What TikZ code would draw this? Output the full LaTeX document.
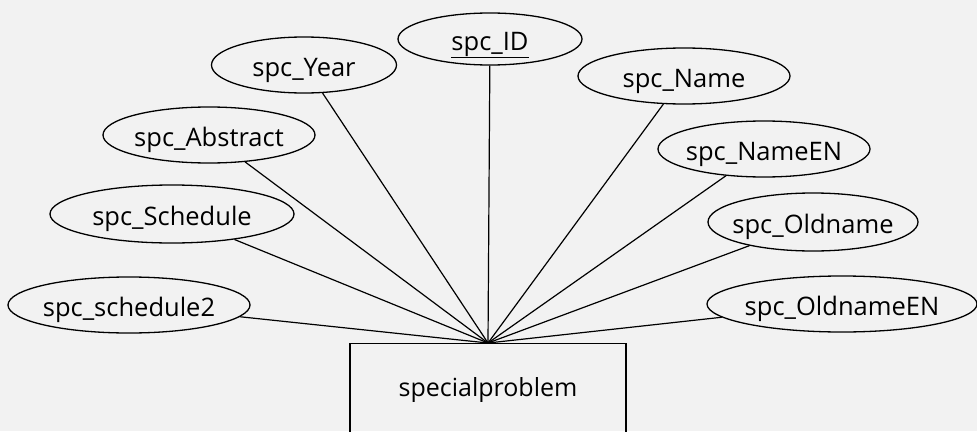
\documentclass[tikz,border=0pt]{standalone}
\usepackage{fontspec}
\setmainfont{Open Sans}
\usetikzlibrary{shapes.geometric}
\tikzset{
  attr/.style={draw, line width=1.3pt, ellipse, inner sep=0pt, font=\fontsize{25.5}{29}\selectfont},
  ent/.style={draw, line width=1.3pt, rectangle, inner sep=0pt},
  conn/.style={line width=1.2pt}
}
\newcommand{\attrtext}[1]{\makebox[0pt]{\raisebox{-11pt}[0pt][0pt]{#1}}}
\begin{document}
\begin{tikzpicture}[x=1pt,y=-1pt]
\fill[black!5] (0,0) rectangle (977,431);
\useasboundingbox (0,0) rectangle (977,431);
\clip (0,0) rectangle (977,431);
\node[ent, minimum width=276pt, minimum height=130pt, anchor=north] (sp) at (488,343) {};
\node[font=\fontsize{25}{29}\selectfont] (sptext) at (488,390) {specialproblem};
\coordinate (hub) at (sp.north);
\node[attr, minimum width=184pt, minimum height=52pt] (id) at (490,39) {\attrtext{\underline{spc\_ID}}};
\node[attr, minimum width=185pt, minimum height=56pt] (year) at (304,65) {\attrtext{spc\_Year}};
\node[attr, minimum width=212pt, minimum height=56pt] (abs) at (209,135) {\attrtext{spc\_Abstract}};
\node[attr, minimum width=244pt, minimum height=58pt] (sch) at (172,214) {\attrtext{spc\_Schedule}};
\node[attr, minimum width=242pt, minimum height=56pt] (sch2) at (129,305) {\attrtext{spc\_schedule2}};
\node[attr, minimum width=212pt, minimum height=56pt] (name) at (684,76) {\attrtext{spc\_Name}};
\node[attr, minimum width=212pt, minimum height=56pt] (nameen) at (764,149) {\attrtext{spc\_NameEN}};
\node[attr, minimum width=210pt, minimum height=58pt] (old) at (813,222) {\attrtext{spc\_Oldname}};
\node[attr, minimum width=270pt, minimum height=56pt] (olden) at (842,304) {\attrtext{spc\_OldnameEN}};
\foreach \n in {id,year,abs,sch,sch2,name,nameen,old,olden}
  \draw[conn] (\n) -- (hub);
\end{tikzpicture}
\end{document}
